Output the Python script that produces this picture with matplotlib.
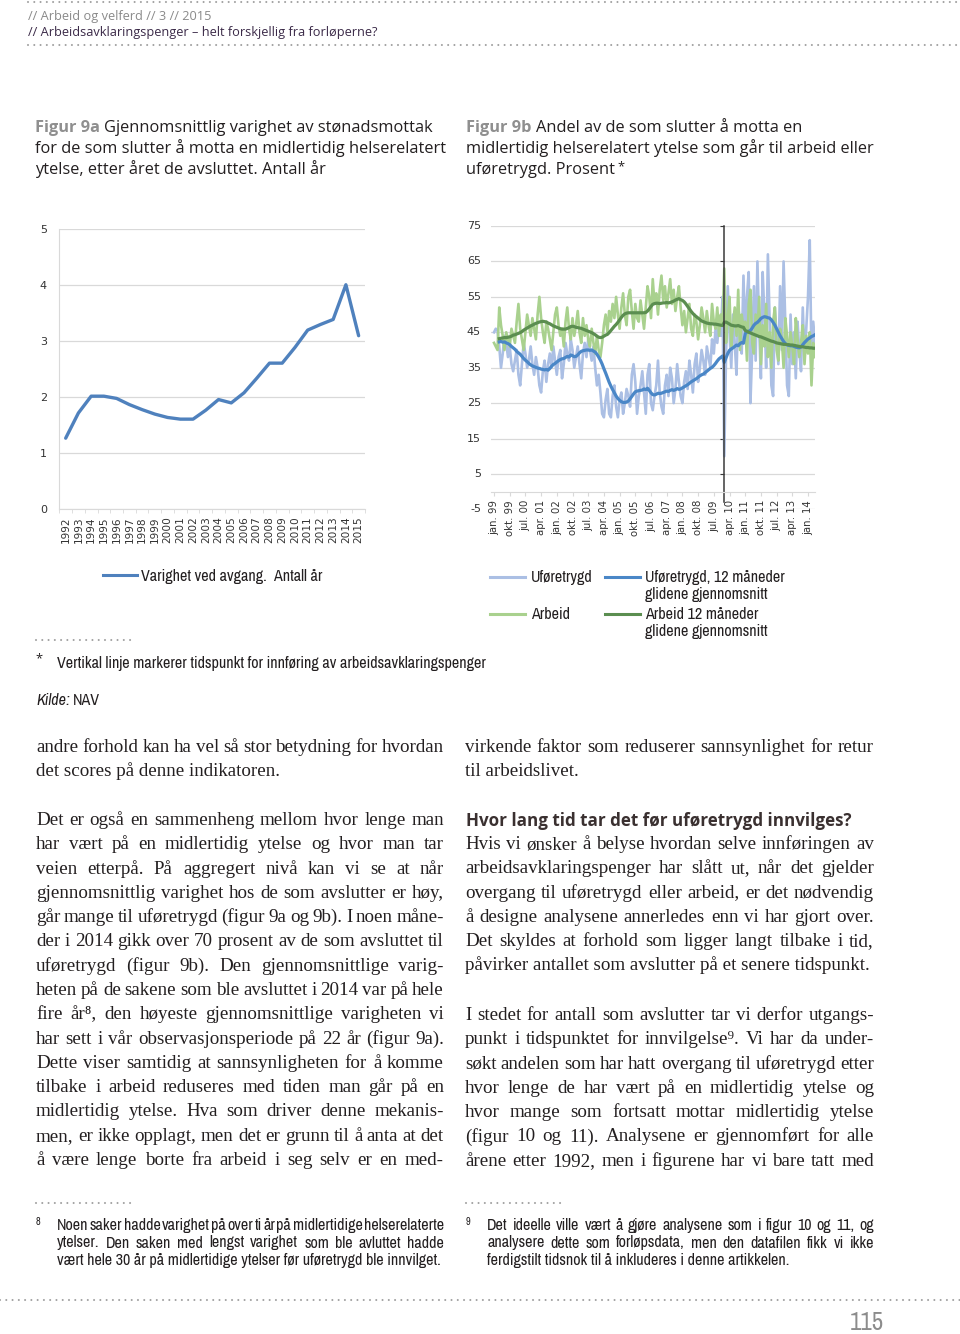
import numpy as np
import matplotlib
matplotlib.use("Agg")
import matplotlib.pyplot as plt
from matplotlib import font_manager as fm
from matplotlib.font_manager import FontProperties
from matplotlib.lines import Line2D
from matplotlib.transforms import blended_transform_factory

# Figur 9a: gjennomsnittlig varighet (antall år) etter avgangsår
aar = ["1992", "1993", "1994", "1995", "1996", "1997", "1998", "1999",
       "2000", "2001", "2002", "2003", "2004", "2005", "2006", "2007",
       "2008", "2009", "2010", "2011", "2012", "2013", "2014", "2015"]
varighet = [1.27, 1.72, 2.02, 2.02, 1.98, 1.87, 1.78, 1.70,
            1.64, 1.61, 1.61, 1.77, 1.96, 1.90, 2.08, 2.34,
            2.61, 2.61, 2.89, 3.20, 3.30, 3.39, 4.01, 3.10]

# Figur 9b: månedlige andeler i prosent, jan. 99 - mai 14
maaned_etiketter = ["jan. 99", "okt. 99", "jul. 00", "apr. 01", "jan. 02", "okt. 02",
                    "jul. 03", "apr. 04", "jan. 05", "okt. 05", "jul. 06", "apr. 07",
                    "jan. 08", "okt. 08", "jul. 09", "apr. 10", "jan. 11", "okt. 11",
                    "jul. 12", "apr. 13", "jan. 14"]
etikett_steg = 9

ufore = [45, 46, 45.5, 41, 35, 39, 44, 42, 38, 41, 36, 34,
         37, 40, 33, 30, 36, 42, 39, 35, 37, 41, 36, 33,
         38, 35, 30, 28, 34, 37, 31, 36, 39, 35, 41, 37,
         33, 38, 40, 32, 36, 42, 39, 37, 43, 40, 35, 38,
         41, 36, 32, 39, 42, 38, 43, 40, 37, 41, 35, 30,
         33, 28, 22, 21, 26, 29, 22, 21, 27, 30, 24, 21,
         26, 28, 22, 25, 29, 27, 24, 33, 36, 31, 22, 27,
         30, 34, 28, 22, 33, 36, 25, 23, 27, 30, 37, 28,
         24, 22, 30, 33, 27, 35, 32, 25, 29, 36, 31, 27,
         25, 31, 34, 29, 37, 33, 28, 36, 39, 31, 35, 40,
         37, 33, 41, 38, 35, 43, 39, 46, 42, 48, 44, 55,
         10, 38, 58, 45, 35, 50, 42, 33, 52, 48, 39, 61,
         44, 55, 62, 25, 40, 58, 37, 65, 46, 32, 62, 50,
         35, 67, 48, 30, 27, 52, 44, 36, 58, 40, 65, 48,
         30, 27, 50, 36, 45, 32, 48, 40, 34, 52, 38, 46,
         55, 71, 38, 48, 42]

arbeid = [42, 41, 40, 52, 47, 44, 40, 45, 43, 41, 46, 44,
          42, 48, 53, 46, 43, 40, 45, 50, 47, 44, 49, 46,
          43, 50, 55, 49, 45, 42, 48, 46, 43, 40, 45, 50,
          52, 47, 44, 46, 41, 48, 52, 46, 43, 49, 44, 47,
          51, 45, 42, 49, 44, 47, 43, 41, 46, 42, 39, 44,
          40, 38, 42, 47, 50, 45, 51, 48, 53, 49, 55, 50,
          46, 52, 56, 50, 47, 55, 57, 51, 46, 53, 49, 48,
          54, 50, 46, 52, 58, 55, 49, 60, 53, 56, 50, 57,
          61, 54, 58, 52, 56, 60, 53, 57, 51, 55, 58, 52,
          47, 51, 45, 49, 53, 46, 44, 50, 48, 43, 47, 52,
          49, 45, 51, 47, 44, 53, 48, 46, 52, 44, 50, 47,
          63, 42, 49, 55, 41, 47, 52, 44, 57, 40, 50, 46,
          48, 37, 53, 57, 42, 39, 50, 44, 55, 36, 47, 41,
          53, 38, 45, 35, 48, 52, 40, 37, 46, 43, 35, 49,
          44, 38, 45, 41, 36, 49, 43, 38, 42, 47, 36, 44,
          39, 45, 30, 42, 38]

# 12 måneders glidende gjennomsnitt, from month index glid_start
glid_start = 3
ufore_glid = [42.3, 42.4, 42.2, 42.3, 42.0, 41.8, 41.5, 41.0, 40.6,
              40.2, 39.6, 39.2, 38.8, 38.2, 37.6, 37.1, 36.7, 36.2, 35.8, 35.5, 35.3,
              35.1, 34.9, 34.8, 34.6, 34.5, 34.4, 34.5, 34.3, 34.8, 35.4, 35.9, 36.2,
              36.6, 37.0, 37.3, 37.5, 37.6, 37.9, 38.2, 38.0, 38.6, 38.4, 38.1, 38.2,
              38.6, 39.2, 39.6, 39.8, 39.9, 40.0, 40.0, 39.9, 40.0, 39.7, 39.4, 38.8,
              38.0, 37.1, 36.0, 34.7, 33.5, 32.2, 30.9, 29.8, 28.8, 27.9, 27.0, 26.3,
              25.8, 25.4, 25.2, 25.2, 25.3, 25.6, 26.2, 26.9, 27.6, 28.2, 28.4, 28.5,
              28.6, 28.7, 29.0, 28.8, 29.2, 28.6, 27.9, 27.4, 27.3, 27.5, 27.8, 27.7,
              27.8, 28.0, 28.2, 28.4, 28.3, 28.6, 28.8, 28.6, 28.8, 29.1, 28.9, 29.0,
              29.3, 29.6, 29.9, 30.2, 30.6, 31.0, 31.3, 31.6, 31.9, 32.3, 32.7, 33.0,
              33.2, 33.6, 34.0, 34.4, 34.8, 35.1, 35.6, 36.2, 36.9, 37.5, 37.9, 38.3,
              36.5, 37.8, 39.0, 39.9, 40.3, 40.6, 41.0, 41.4, 41.2, 41.8, 42.1, 41.9,
              44.6, 45.1, 45.3, 45.5, 46.2, 47.0, 47.5, 47.8, 48.3, 48.9, 49.2, 49.4,
              49.3, 49.1, 49.0, 48.5, 47.8, 47.0, 46.0, 45.0, 44.0, 43.2, 42.4, 41.8,
              41.5, 41.3, 41.2, 41.2, 41.0, 40.8, 40.7, 40.6, 40.9, 41.5, 42.1, 42.6,
              43.1, 43.4, 43.8, 44.0, 44.3]
arbeid_glid = [43.2, 43.3, 43.4, 43.5, 43.5, 43.6, 43.7, 43.9, 44.2,
               44.3, 44.5, 44.7, 44.9, 45.2, 45.6, 45.9, 46.2, 46.5, 46.8, 47.0, 47.3,
               47.5, 47.7, 47.9, 48.0, 48.1, 48.0, 47.9, 47.6, 47.4, 47.1, 46.8, 46.6,
               46.4, 46.2, 46.0, 45.9, 45.9, 45.9, 46.1, 46.3, 46.6, 46.7, 46.6, 46.4,
               46.3, 46.2, 46.1, 45.9, 45.7, 45.5, 45.3, 45.1, 44.9, 44.6, 44.3, 43.9,
               43.6, 43.5, 43.6, 43.9, 44.2, 44.4, 44.9, 45.5, 46.1, 46.7, 47.2, 47.8,
               48.5, 49.2, 49.8, 50.2, 50.4, 50.5, 50.5, 50.5, 50.5, 50.5, 50.5, 50.5,
               50.5, 50.5, 50.5, 50.6, 51.0, 51.6, 52.3, 52.9, 53.1, 53.2, 53.2, 53.1,
               53.2, 53.3, 53.3, 53.4, 53.3, 53.4, 53.6, 53.8, 54.1, 54.3, 54.5, 54.2,
               54.0, 53.6, 53.0, 52.3, 51.6, 50.9, 50.3, 49.8, 49.4, 49.0, 48.6, 48.2,
               48.0, 47.8, 47.6, 47.5, 47.4, 47.4, 47.3, 47.3, 47.2, 47.1, 47.0, 46.9,
               47.8, 47.9, 47.6, 47.3, 47.0, 46.9, 46.8, 46.8, 46.9, 46.7, 46.5, 46.4,
               45.5, 45.3, 45.0, 44.8, 44.6, 44.4, 44.2, 44.0, 43.8, 43.7, 43.5, 43.3,
               43.1, 42.9, 42.7, 42.5, 42.4, 42.2, 42.0, 41.9, 41.8, 41.7, 41.6, 41.6,
               41.5, 41.5, 41.4, 41.4, 41.3, 41.2, 41.1, 41.0, 40.9, 40.9, 40.8, 40.7,
               40.7, 40.6, 40.6, 40.5, 40.5]

aap_innfort = 131.7  # month index of the vertical marker line

# page text
hode = ["// Arbeid og velferd // 3 // 2015",
        "// Arbeidsavklaringspenger – helt forskjellig fra forløperne?"]
tittel_a = ["Gjennomsnittlig varighet av stønadsmottak",
            "for de som slutter å motta en midlertidig helserelatert",
            "ytelse, etter året de avsluttet. Antall år"]
tittel_b = ["Andel av de som slutter å motta en",
            "midlertidig helserelatert ytelse som går til arbeid eller",
            "uføretrygd. Prosent"]
venstre_1 = ["andre forhold kan ha vel så stor betydning for hvordan",
             "det scores på denne indikatoren."]
venstre_2 = ["Det er også en sammenheng mellom hvor lenge man",
             "har vært på en midlertidig ytelse og hvor man tar",
             "veien etterpå. På aggregert nivå kan vi se at når",
             "gjennomsnittlig varighet hos de som avslutter er høy,",
             "går mange til uføretrygd (figur 9a og 9b). I noen måne-",
             "der i 2014 gikk over 70 prosent av de som avsluttet til",
             "uføretrygd (figur 9b). Den gjennomsnittlige varig-",
             "heten på de sakene som ble avsluttet i 2014 var på hele",
             "fire år⁸, den høyeste gjennomsnittlige varigheten vi",
             "har sett i vår observasjonsperiode på 22 år (figur 9a).",
             "Dette viser samtidig at sannsynligheten for å komme",
             "tilbake i arbeid reduseres med tiden man går på en",
             "midlertidig ytelse. Hva som driver denne mekanis-",
             "men, er ikke opplagt, men det er grunn til å anta at det",
             "å være lenge borte fra arbeid i seg selv er en med-"]
hoyre_1 = ["virkende faktor som reduserer sannsynlighet for retur",
           "til arbeidslivet."]
overskrift = "Hvor lang tid tar det før uføretrygd innvilges?"
hoyre_2 = ["Hvis vi ønsker å belyse hvordan selve innføringen av",
           "arbeidsavklaringspenger har slått ut, når det gjelder",
           "overgang til uføretrygd  eller arbeid, er det nødvendig",
           "å designe analysene annerledes enn vi har gjort over.",
           "Det skyldes at forhold som ligger langt tilbake i tid,",
           "påvirker antallet som avslutter på et senere tidspunkt."]
hoyre_3 = ["I stedet for antall som avslutter tar vi derfor utgangs-",
           "punkt i tidspunktet for innvilgelse⁹. Vi har da under-",
           "søkt andelen som har hatt overgang til uføretrygd etter",
           "hvor lenge de har vært på en midlertidig ytelse og",
           "hvor mange som fortsatt mottar midlertidig ytelse",
           "(figur 10 og 11). Analysene er gjennomført for alle",
           "årene etter 1992, men i figurene har vi bare tatt med"]
fotnote_8 = ["Noen saker hadde varighet på over ti år på midlertidige helserelaterte",
             "ytelser. Den saken med lengst varighet som ble avluttet hadde",
             "vært hele 30 år på midlertidige ytelser før uføretrygd ble innvilget."]
fotnote_9 = ["Det ideelle ville vært å gjøre analysene som i figur 10 og 11, og",
             "analysere dette som forløpsdata, men den datafilen fikk vi ikke",
             "ferdigstilt tidsnok til å inkluderes i denne artikkelen."]

W, H = 960, 1334
TXT = "#231f20"
GREY = "#8c8c8c"
GRID = "#d9d9d9"
TICK = "#333333"
C_UF_LYS, C_UF = "#abbfe4", "#4a87c7"
C_AR_LYS, C_AR = "#a9d18e", "#5b8e50"
C_9A = "#4f81bd"


def wnum(w):
    return w if isinstance(w, (int, float)) else fm.weight_dict.get(w, 400)


def has_bold(name):
    return any(f.name == name and wnum(f.weight) >= 600 for f in fm.fontManager.ttflist)


def find_cond(style):
    best = None
    for f in fm.fontManager.ttflist:
        narrow = ("Narrow" in f.name or "Condensed" in f.name
                  or f.stretch in ("condensed", "semi-condensed"))
        if not narrow or "Extra" in f.name or "Ultra" in f.name:
            continue
        if f.style != style or wnum(f.weight) != 400:
            continue
        rank = 0 if "Narrow" in f.name else 1 if ("Semi" in f.name or f.stretch == "semi-condensed") else 2
        if best is None or rank < best[0]:
            best = (rank, f.fname)
    return best[1] if best else None


SANS_NAME = next((n for n in ["Noto Sans", "Open Sans", "Lato", "Roboto", "Liberation Sans"]
                  if has_bold(n)), "DejaVu Sans")
SANS = [SANS_NAME, "DejaVu Sans"]
SERIF = ["Liberation Serif", "DejaVu Serif"]
cond_path = find_cond("normal")
cond_path_i = find_cond("italic")


def cond_fp(italic=False):
    path = cond_path_i if italic else cond_path
    if path:
        return FontProperties(fname=path, size=10)
    return FontProperties(family=["Roboto", "DejaVu Sans"], size=10,
                          style="italic" if italic else "normal")


fig = plt.figure(figsize=(9.6, 13.34), dpi=100)
fig.patch.set_facecolor("white")
renderer = fig.canvas.get_renderer()


def fx(x):
    return x / W


def fy(y):
    return 1 - y / H


def text_w(s, fp):
    return renderer.get_text_width_height_descent(s, fp, ismath=False)[0]


def fit(fp, s, target):
    fp.set_size(20)
    fp.set_size(20 * target / text_w(s, fp))
    return fp


def put(x, y, s, fp, color=TXT, **kw):
    return fig.text(fx(x), fy(y), s, fontproperties=fp, color=color, va="baseline", **kw)


def line(x0, y, s, fp, color=TXT, width=None):
    words = s.split()
    if width is None or len(words) < 2:
        put(x0, y, s, fp, color)
        return
    ws = [text_w(w, fp) for w in words]
    gap = (width - sum(ws)) / (len(words) - 1)
    x = x0
    for w, wd in zip(words, ws):
        put(x, y, w, fp, color)
        x += wd + gap


def dots(x0, x1, y):
    fig.add_artist(Line2D([fx(x0), fx(x1)], [fy(y), fy(y)], transform=fig.transFigure,
                          color="#a0a0a0", lw=1.5, linestyle=(0, (0.01, 3.0)),
                          dash_capstyle="round"))


# font sizes matched to line widths on the page
fp_head = fit(FontProperties(family=SANS), hode[1], 347)
fp_title = fit(FontProperties(family=SANS), tittel_a[2], 291)
fp_title_b = FontProperties(family=SANS, size=fp_title.get_size(), weight="bold")
fp_body = fit(FontProperties(family=SERIF), venstre_1[1], 244)
fp_h2 = fit(FontProperties(family=SANS, weight="bold"), overskrift, 384)
fp_cond = fit(cond_fp(), "Vertikal linje markerer tidspunkt for innføring av arbeidsavklaringspenger", 427)
fp_cond_i = cond_fp(True)
fp_cond_i.set_size(fp_cond.get_size())
fp_sup = cond_fp()
fp_sup.set_size(fp_cond.get_size() * 0.65)
fp_star = FontProperties(family=SANS, size=fp_cond.get_size() * 0.8)
fp_page = fit(cond_fp(), "115", 34)

# header
dots(28, 960, 2)
put(28, 20, hode[0], fp_head, "#8a8a8a")
put(28, 36, hode[1], fp_head, "#3b2a48")
dots(28, 960, 45)

# figure titles
for x0, nr, rows in [(35, "Figur 9a", tittel_a), (466, "Figur 9b", tittel_b)]:
    for i, s in enumerate(rows):
        y = 132 + i * 21
        if i == 0:
            put(x0, y, nr, fp_title_b, "#8f8f8f")
            put(x0 + text_w(nr + " ", fp_title_b), y, s, fp_title)
        else:
            put(x0, y, s, fp_title)
    if nr == "Figur 9b":
        put(x0 + text_w(rows[-1], fp_title) + 2, y - 4, "*", fp_star)

# Figur 9a
ax1 = fig.add_axes([fx(59.3), fy(509.3), (365 - 59.3) / W, (509.3 - 229.3) / H])
xa = np.arange(len(aar))
ax1.plot(xa, varighet, color=C_9A, lw=2.4, solid_joinstyle="round", solid_capstyle="round")
ax1.set_xlim(-0.5, len(aar) - 0.5)
ax1.set_ylim(0, 5)
ax1.set_yticks(range(0, 6))
ax1.set_xticks(xa)
ax1.set_xticklabels(aar, rotation=90, fontsize=7.6, color=TICK)
ax1.set_xticks(np.arange(len(aar) + 1) - 0.5, minor=True)
ax1.tick_params(axis="x", which="major", length=0, pad=5)
ax1.tick_params(axis="x", which="minor", length=3, color=GRID)
ax1.tick_params(axis="y", length=0, pad=9, labelsize=8, labelcolor=TICK)
ax1.grid(axis="y", color=GRID, lw=0.9)
ax1.set_axisbelow(True)
for s in ["top", "right"]:
    ax1.spines[s].set_visible(False)
for s in ["left", "bottom"]:
    ax1.spines[s].set_color(GRID)

# Figur 9b
ax2 = fig.add_axes([fx(490.7), fy(509.4), (815.5 - 490.7) / W, (509.4 - 226) / H])
xm = np.arange(len(ufore))
xg = np.arange(glid_start, glid_start + len(ufore_glid))
ax2.plot(xm, ufore, color=C_UF_LYS, lw=1.9)
ax2.plot(xm, arbeid, color=C_AR_LYS, lw=1.9)
ax2.plot(xg, ufore_glid, color=C_UF, lw=2.3)
ax2.plot(xg, arbeid_glid, color=C_AR, lw=2.3)
ax2.set_xlim(-1.9, 184.3)
ax2.set_ylim(-5, 75)
yt = list(range(-5, 80, 10))
ax2.set_yticks(yt)
ax2.grid(axis="y", color=GRID, lw=0.9)
ax2.set_axisbelow(True)
ax2.get_ygridlines()[0].set_visible(False)
ax2.spines["left"].set_position(("data", aap_innfort))
ax2.spines["left"].set_color("#3a3a3a")
ax2.spines["left"].set_linewidth(1.1)
ax2.spines["left"].set_bounds(-3, 75)
ax2.tick_params(axis="y", direction="out", length=3, color="#3a3a3a", labelleft=False)
ax2.yaxis.get_major_ticks()[0].tick1line.set_visible(False)
lab_tr = blended_transform_factory(ax2.transAxes, ax2.transData)
for v in yt:
    ax2.text(-0.03, v, str(v), transform=lab_tr, ha="right", va="center",
             fontsize=8, color=TICK)
ax2.spines["bottom"].set_position(("data", 0))
ax2.spines["bottom"].set_color(GRID)
ax2.set_xticks(np.arange(len(maaned_etiketter)) * etikett_steg)
ax2.set_xticklabels(maaned_etiketter, rotation=90, fontsize=7.3, color=TICK)
ax2.tick_params(axis="x", length=3, color=GRID, pad=3)
for s in ["top", "right"]:
    ax2.spines[s].set_visible(False)


# legends
def key(x0, x1, y, color):
    fig.add_artist(Line2D([fx(x0), fx(x1)], [fy(y), fy(y)], transform=fig.transFigure,
                          color=color, lw=2.2))


key(103, 137, 575, C_9A)
put(141, 581, "Varighet ved avgang.  Antall år", fp_cond)
key(490, 525, 577, C_UF_LYS)
put(531, 582, "Uføretrygd", fp_cond)
key(605, 640, 577, C_UF)
put(645, 582, "Uføretrygd, 12 måneder", fp_cond)
put(645, 599, "glidene gjennomsnitt", fp_cond)
key(490, 525, 614, C_AR_LYS)
put(531, 619, "Arbeid", fp_cond)
key(605, 640, 614, C_AR)
put(645, 619, "Arbeid 12 måneder", fp_cond)
put(645, 636, "glidene gjennomsnitt", fp_cond)

dots(36, 133, 640)
put(35, 662, "*", fp_star)
put(57, 668, "Vertikal linje markerer tidspunkt for innføring av arbeidsavklaringspenger", fp_cond)
put(36, 705, "Kilde:", fp_cond_i)
put(36 + text_w("Kilde: ", fp_cond_i), 705, "NAV", fp_cond)

# body text
LH = 24.29


def paragraph(rows, x0, y0, width, last_full=False):
    for i, s in enumerate(rows):
        full = i < len(rows) - 1 or last_full
        line(x0, y0 + i * LH + 5, s, fp_body, TXT, width if full else None)


paragraph(venstre_1, 36, 747, 408)
paragraph(venstre_2, 36, 820, 408, last_full=True)
paragraph(hoyre_1, 465, 747, 409)
put(466, 826, overskrift, fp_h2, "#3a3030")
paragraph(hoyre_2, 465, 844, 409)
paragraph(hoyre_3, 465, 1015, 409, last_full=True)

# footnotes
dots(36, 133, 1203)
dots(466, 563, 1203)
put(36, 1225, "8", fp_sup)
put(466, 1225, "9", fp_sup)
for i, s in enumerate(fotnote_8):
    line(57, 1230 + i * 17.5, s, fp_cond, TXT, 387 if i < 2 else None)
for i, s in enumerate(fotnote_9):
    line(487, 1230 + i * 17.5, s, fp_cond, TXT, 387 if i < 2 else None)

dots(0, 960, 1300)
put(850, 1330, "115", fp_page, GREY)

fig.savefig("out.png", dpi=100)
